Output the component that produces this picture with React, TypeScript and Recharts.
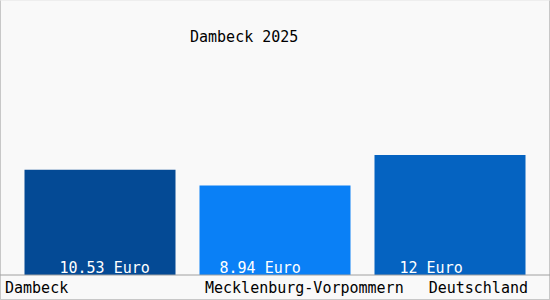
import { BarChart, Bar, XAxis, YAxis, Cell } from 'recharts';

const regions = ['Dambeck', 'Mecklenburg-Vorpommern', 'Deutschland'];
const prices = [10.53, 8.94, 12];
const priceLabels = ['10.53 Euro', '8.94 Euro', '12 Euro'];
const title = 'Dambeck 2025';

const barColors = ['#044a95', '#0a80f6', '#0563c1'];
// where each label sits relative to its band / bar (as in the original image)
const tickPlacement = [
  { dx: -95, anchor: 'start' },
  { dx: -70, anchor: 'start' },
  { dx: 78, anchor: 'end' },
];
const valueLabelOffset = [35, 20, 25];

const font = '"DejaVu Sans Mono", monospace';

const data = regions.map((name, i) => ({ name, price: prices[i] }));

function CategoryTick(props: any) {
  const { x, y, payload, index } = props;
  const p = tickPlacement[index] ?? { dx: 0, anchor: 'middle' };
  return (
    <text
      x={x + p.dx}
      y={y}
      dy={17.7}
      textAnchor={p.anchor}
      fill="#000"
      fontSize={15}
      fontFamily={font}
    >
      {payload.value}
    </text>
  );
}

function ValueLabel(props: any) {
  const { x, y, height, index } = props;
  return (
    <text
      x={x + valueLabelOffset[index]}
      y={y + height - 2.5}
      fill="#fff"
      fontSize={15}
      fontFamily={font}
    >
      {priceLabels[index]}
    </text>
  );
}

export default function App() {
  return (
    <div
      style={{
        position: 'absolute',
        left: 0,
        top: 0,
        width: 550,
        height: 300,
        background: '#f9f9f9',
      }}
    >
      <div
        style={{
          position: 'absolute',
          inset: 0,
          borderLeft: '1px solid #c8c8c8',
          borderBottom: '1px solid #c8c8c8',
          borderRight: '1px solid #c8c8c8',
          borderTop: '1px solid #eeeeee',
          width: 548,
          height: 298,
          pointerEvents: 'none',
        }}
      />
      <div
        style={{
          position: 'absolute',
          left: 190,
          top: 30,
          fontFamily: font,
          fontSize: 15,
          lineHeight: '15px',
          color: '#000',
          whiteSpace: 'nowrap',
        }}
      >
        {title}
      </div>
      <BarChart
        width={550}
        height={300}
        data={data}
        margin={{ top: 75, right: 0, bottom: 0, left: 0 }}
      >
        <XAxis
          dataKey="name"
          height={25}
          padding={{ left: 12.5, right: 12.5 }}
          axisLine={{ stroke: '#a0a0a0' }}
          tickLine={false}
          tickSize={0}
          tickMargin={0}
          interval={0}
          tick={<CategoryTick />}
        />
        <YAxis hide domain={[0, 20]} />
        <Bar dataKey="price" barSize={151} isAnimationActive={false} label={<ValueLabel />}>
          {data.map((d, i) => (
            <Cell key={d.name} fill={barColors[i]} />
          ))}
        </Bar>
      </BarChart>
    </div>
  );
}
